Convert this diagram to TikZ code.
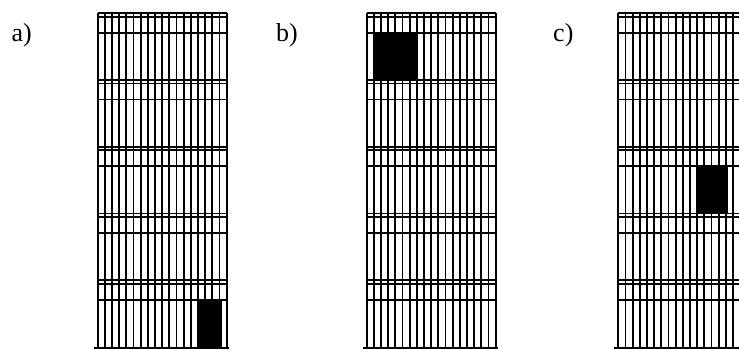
\documentclass[tikz,border=0pt]{standalone}
\usepackage{fontspec}
\setmainfont{Liberation Serif}
\tikzset{
  gridline/.style={line width=1.8pt, draw=black},
  blockfill/.style={fill=black, draw=none},
  panellabel/.style={font=\fontsize{26}{30}\selectfont, anchor=base west, inner sep=0pt}
}
\newcommand\drawbldg[1]{%
  \begin{scope}[shift={(#1,0)}]
    \foreach \i in {0,...,18}
      \draw[gridline] ({\i*129/18},13.3) -- ({\i*129/18},348);
    \foreach \k in {0,...,4} {
      \draw[gridline] (0,{13.3+66.7*\k}) -- (129,{13.3+66.7*\k});
      \draw[gridline] (0,{16.8+66.7*\k}) -- (129,{16.8+66.7*\k});
      \draw[gridline] (0,{32.8+66.7*\k}) -- (129,{32.8+66.7*\k});
    }
    \draw[gridline] (-4,348) -- (131,348);
  \end{scope}}
\begin{document}
\begin{tikzpicture}[x=1pt,y=-1pt]
  \useasboundingbox (0,0) rectangle (739,349);
  \clip (0,0) rectangle (739,349);
  \drawbldg{97.7}
  \drawbldg{366.7}
  \drawbldg{618.3}
  \fill[blockfill] (199,299.5) rectangle (221.7,348);
  \fill[blockfill] (375,32.8) rectangle (418.3,79.3);
  \fill[blockfill] (697.7,166) rectangle (728.3,213.3);
  \node[panellabel] (la) at (11.5,41) {a)};
  \node[panellabel] (lb) at (276,41) {b)};
  \node[panellabel] (lc) at (553,41) {c)};
\end{tikzpicture}
\end{document}
